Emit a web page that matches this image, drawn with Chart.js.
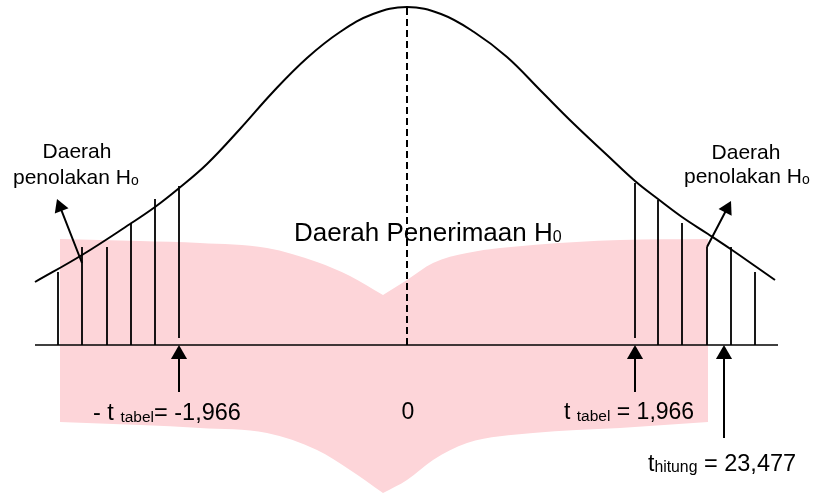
<!DOCTYPE html>
<html>
<head>
<meta charset="utf-8">
<script src="https://cdn.jsdelivr.net/npm/chart.js@4.4.1/dist/chart.umd.min.js"></script>
<style>
  html, body { margin: 0; padding: 0; background: #ffffff; }
  #c { display: block; }
</style>
</head>
<body>
<canvas id="c" width="814" height="494"></canvas>
<script>
// ---- Diagram data (x: offset from the mean 0, y: height above the t axis) ----
const curveX = [-372, -325, -277, -252, -229, -200, -167, -134, -100, -67, -34, 0,
                34, 67, 100, 134, 167, 200, 228, 251, 275, 301, 325, 348, 368];
const curveY = [63, 90, 121, 138, 156, 181, 216, 253, 287, 313, 331, 338,
                331, 313, 288, 254, 221, 190, 164, 146, 128, 111, 95, 79, 65];

// rejection-region hatch lines
const hatchX      = [-349, -325, -300, -276, -252, -228, 228, 251, 275, 300, 324, 348];
const hatchTop    = [73, 98, 98, 122, 146, 159, 162, 145, 122, 98, 98, 73];
const hatchBottom = [0, 0, 0, 0, 0, 7, 7, 0, 0, 0, 0, 0];

// axis and mean line
const axisX = [-372, 371];
const meanX = 0;
const meanTop = 338;

// arrows: tail -> tip
const arrowTailX = [-228, 228, 317, -325, 300];
const arrowTailY = [-47, -47, -93, 82, 98];
const arrowTipX  = [-228, 228, 317, -350, 324];
const arrowTipY  = [0, 0, 0, 146, 144];

// pale pink ribbon behind the acceptance region (left and right halves meet at the notch)
const ribbonLeftX       = [-347, -267, -207, -140, -90, -57, -24];
const ribbonLeftTop     = [106, 104, 102, 97, 83, 69, 50];
const ribbonLeftBottom  = [-77, -80, -83, -88, -105, -125, -148];
const ribbonRightX      = [-24, 0, 26, 60, 126, 213, 301];
const ribbonRightTop    = [50, 65, 82, 92, 100, 105, 106];
const ribbonRightBottom = [-148, -135, -115, -98, -88, -83, -77];

// texts
const rejectLabel = ['Daerah', 'penolakan H', 'o'];
const acceptLabel = ['Daerah Penerimaan H', '0'];
const tickLabels  = ['- t ', 'tabel', '= -1,966', '0', 't ', 'tabel', ' = 1,966'];
const tHitungLabel = ['t', 'hitung', ' = 23,477'];

// ---- layout / style ----
const FONT = '"Liberation Sans", Arial, Helvetica, sans-serif';
const PINK = '#fdd5d9';
const INK = '#000000';

const textLayout = [
  { x: -330, y: 187, align: 'center', parts: [[rejectLabel[0], 21, 0]] },
  { x: -394, y: 161, align: 'left', parts: [[rejectLabel[1], 21, 0], [rejectLabel[2], 14, 1]] },
  { x: 339, y: 186, align: 'center', parts: [[rejectLabel[0], 21, 0]] },
  { x: 277, y: 162, align: 'left', parts: [[rejectLabel[1], 21, 0], [rejectLabel[2], 14, 1]] },
  { x: -113, y: 104, align: 'left', parts: [[acceptLabel[0], 26, 0], [acceptLabel[1], 16, 1]] },
  { x: -314, y: -75, align: 'left', parts: [[tickLabels[0], 23.5, 0], [tickLabels[1], 15.5, 2], [tickLabels[2], 23.5, 0]] },
  { x: 1, y: -74, align: 'center', parts: [[tickLabels[3], 23, 0]] },
  { x: 157, y: -74, align: 'left', parts: [[tickLabels[4], 23, 0], [tickLabels[5], 15.5, 2], [tickLabels[6], 23, 0]] },
  { x: 241, y: -126, align: 'left', parts: [[tHitungLabel[0], 23, 0], [tHitungLabel[1], 15.8, 1], [tHitungLabel[2], 23.5, 0]] }
];

// ---- build datasets from the arrays ----
const pts = (xs, ys) => xs.map((x, i) => ({ x, y: ys[i] }));
const curveData = pts(curveX, curveY);
const hatchData = [];
hatchX.forEach((x, i) => {
  hatchData.push({ x, y: hatchBottom[i] }, { x, y: hatchTop[i] }, { x, y: null });
});

const shaftData = [];
const headData = [];
const headRot = [];
const headRad = [];
arrowTipX.forEach((tx, i) => {
  const ty = arrowTipY[i];
  const dx = tx - arrowTailX[i], dy = ty - arrowTailY[i];
  const L = Math.hypot(dx, dy);
  const r = Math.abs(dx) < 1 ? 9.3 : 8.5;
  const cx = tx - dx / L * r, cy = ty - dy / L * r;
  shaftData.push({ x: arrowTailX[i], y: arrowTailY[i] }, { x: cx, y: cy }, { x: cx, y: null });
  headData.push({ x: cx, y: cy });
  headRot.push(Math.atan2(dx, dy) * 180 / Math.PI);
  headRad.push(r);
});

const lineBase = { type: 'line', pointRadius: 0, pointHoverRadius: 0, tension: 0, fill: false, spanGaps: false };
const clear = 'rgba(0,0,0,0)';

const textPlugin = {
  id: 'diagramText',
  afterDraw(chart) {
    const { ctx, scales } = chart;
    ctx.save();
    ctx.fillStyle = INK;
    ctx.textBaseline = 'alphabetic';
    ctx.textAlign = 'left';
    textLayout.forEach(item => {
      const widths = item.parts.map(p => { ctx.font = p[1] + 'px ' + FONT; return ctx.measureText(p[0]).width; });
      const total = widths.reduce((a, b) => a + b, 0);
      let px = scales.x.getPixelForValue(item.x);
      if (item.align === 'center') px -= total / 2;
      const py = scales.y.getPixelForValue(item.y);
      item.parts.forEach((p, i) => {
        ctx.font = p[1] + 'px ' + FONT;
        ctx.fillText(p[0], px, py + p[2]);
        px += widths[i];
      });
    });
    ctx.restore();
  }
};

new Chart(document.getElementById('c'), {
  type: 'line',
  data: {
    datasets: [
      Object.assign({}, lineBase, { data: pts(ribbonLeftX, ribbonLeftTop), borderColor: clear, borderWidth: 0, backgroundColor: PINK, fill: '+1', cubicInterpolationMode: 'monotone', order: 10 }),
      Object.assign({}, lineBase, { data: pts(ribbonLeftX, ribbonLeftBottom), borderColor: clear, borderWidth: 0, cubicInterpolationMode: 'monotone', order: 10 }),
      Object.assign({}, lineBase, { data: pts(ribbonRightX, ribbonRightTop), borderColor: clear, borderWidth: 0, backgroundColor: PINK, fill: '+1', cubicInterpolationMode: 'monotone', order: 10 }),
      Object.assign({}, lineBase, { data: pts(ribbonRightX, ribbonRightBottom), borderColor: clear, borderWidth: 0, cubicInterpolationMode: 'monotone', order: 10 }),
      Object.assign({}, lineBase, { data: axisX.map(x => ({ x, y: 0 })), borderColor: INK, borderWidth: 1.6, order: 2 }),
      Object.assign({}, lineBase, { data: [{ x: meanX, y: 0 }, { x: meanX, y: meanTop }], borderColor: INK, borderWidth: 2, borderDash: [7, 4], order: 2 }),
      Object.assign({}, lineBase, { data: hatchData, borderColor: INK, borderWidth: 1.8, order: 1 }),
      Object.assign({}, lineBase, { data: curveData, borderColor: INK, borderWidth: 2, tension: 0.4, order: 0 }),
      Object.assign({}, lineBase, { data: shaftData, borderColor: INK, borderWidth: 2, order: 0 }),
      {
        type: 'line', showLine: false, data: headData, pointStyle: 'triangle',
        pointRadius: headRad, pointHoverRadius: headRad, pointRotation: headRot,
        pointBackgroundColor: INK, pointBorderColor: INK, pointBorderWidth: 0, order: 0
      }
    ]
  },
  options: {
    responsive: false,
    animation: false,
    events: [],
    layout: { padding: 0, autoPadding: false },
    plugins: { legend: { display: false }, tooltip: { enabled: false } },
    scales: {
      x: { type: 'linear', min: -407, max: 407, display: false },
      y: { type: 'linear', min: -149, max: 345, display: false }
    }
  },
  plugins: [textPlugin]
});
</script>
</body>
</html>
